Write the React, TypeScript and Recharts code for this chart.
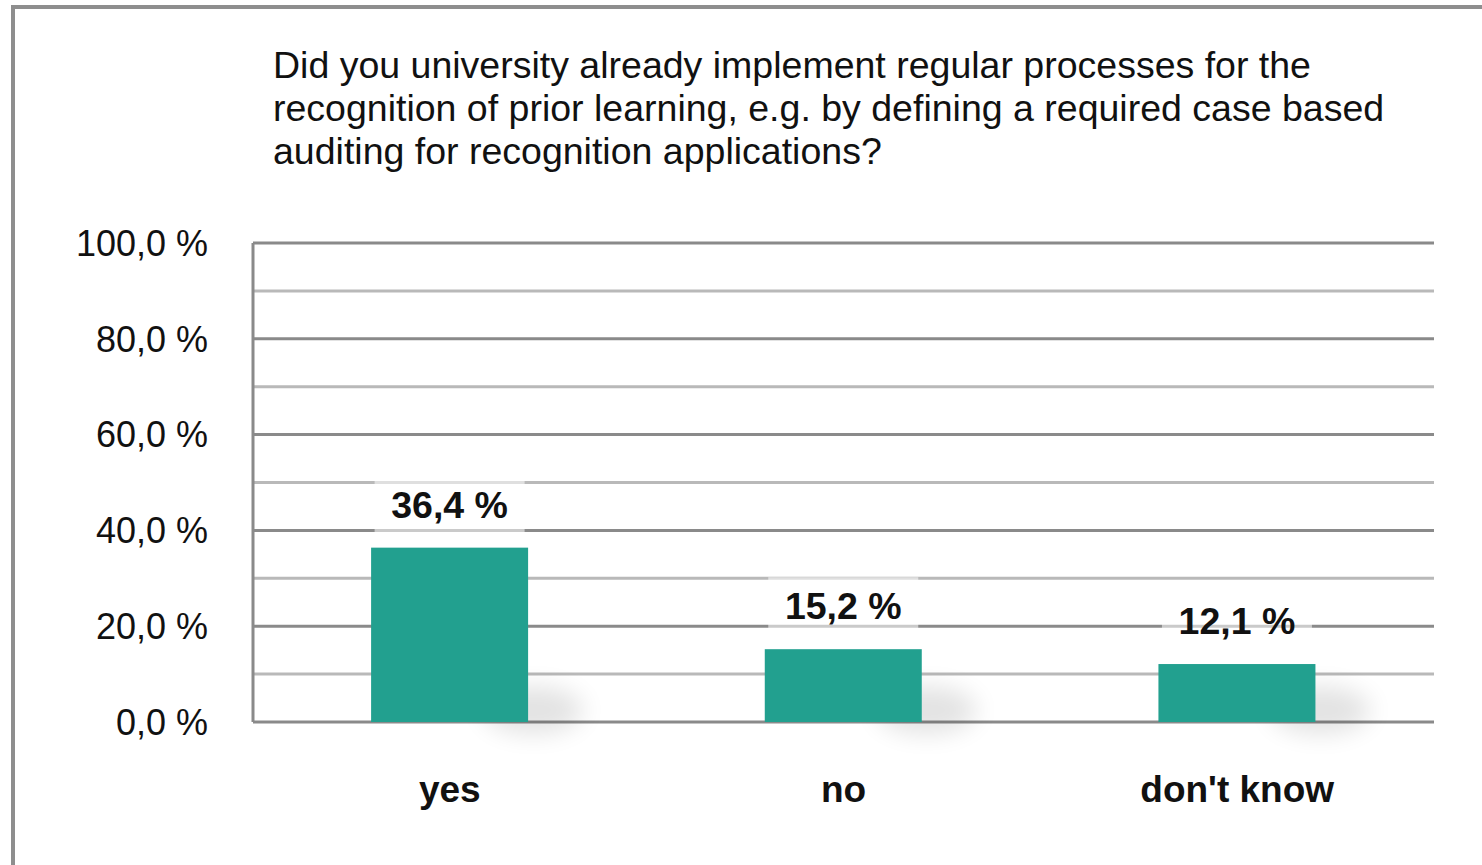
import React from 'react';
import { BarChart, Bar, XAxis, YAxis, CartesianGrid, LabelList } from 'recharts';

const answers = ['yes', 'no', "don't know"];
const shares = [36.4, 15.2, 12.1];
const majorGrid = [0, 20, 40, 60, 80, 100];
const minorGrid = [10, 30, 50, 70, 90];
const yTicks = [0, 20, 40, 60, 80, 100];
const titleLines = [
  'Did you university already implement regular processes for the',
  'recognition of prior learning, e.g. by defining a required case based',
  'auditing for recognition applications?',
];

const data = answers.map((answer, i) => ({ answer, share: shares[i] }));

const FONT = '"Liberation Sans", Arial, sans-serif';
const BAR_COLOR = '#22a08f';
const MAJOR = '#8a8a8a';
const MINOR = '#b9b9b9';

const fmt = (v: number) => `${v.toFixed(1).replace('.', ',')} %`;

// bar with the soft drop shadow at its lower right corner
const ShadowBar: React.FC<any> = ({ x, y, width, height }) => {
  if (!height) return null;
  const bottom = y + height;
  return (
    <g>
      <ellipse
        cx={x + width + 5}
        cy={bottom - 12}
        rx={50}
        ry={Math.min(24, height / 2)}
        fill="#000"
        opacity={0.11}
        filter="url(#barShadow)"
      />
      <rect x={x} y={y} width={width} height={height} fill={BAR_COLOR} />
    </g>
  );
};

const ValueLabel: React.FC<any> = ({ x, y, width, value }) => {
  const cx = x + width / 2;
  const cy = y - 43;
  return (
    <g>
      <rect x={cx - 75} y={cy - 29} width={150} height={58} fill="#fff" opacity={0.55} />
      <text
        x={cx}
        y={cy}
        textAnchor="middle"
        dominantBaseline="central"
        fontFamily={FONT}
        fontWeight="bold"
        fontSize={37.5}
        fill="#111"
      >
        {fmt(value)}
      </text>
    </g>
  );
};

const App: React.FC = () => {
  return (
    <div style={{ position: 'absolute', left: 0, top: 0, width: 1482, height: 865, overflow: 'hidden', background: '#fff' }}>
      <div
        style={{
          position: 'absolute',
          left: 11,
          top: 5,
          width: 1500,
          height: 900,
          borderLeft: '4px solid #8e8e8e',
          borderTop: '4px solid #8e8e8e',
        }}
      />
      <div
        style={{
          position: 'absolute',
          left: 273,
          top: 44,
          fontFamily: FONT,
          fontSize: 37.5,
          lineHeight: '43px',
          color: '#111',
          whiteSpace: 'nowrap',
        }}
      >
        {titleLines.map((line) => (
          <div key={line}>{line}</div>
        ))}
      </div>
      <div style={{ position: 'absolute', left: 0, top: 0 }}>
        <BarChart
          width={1482}
          height={865}
          data={data}
          margin={{ top: 243, right: 48, bottom: 113, left: 0 }}
          barCategoryGap="30%"
        >
          <defs>
            <filter id="barShadow" x="-50%" y="-50%" width="200%" height="200%">
              <feGaussianBlur stdDeviation="12" />
            </filter>
          </defs>
          <CartesianGrid vertical={false} horizontalValues={minorGrid} stroke={MINOR} strokeWidth={3} />
          <CartesianGrid vertical={false} horizontalValues={majorGrid} stroke={MAJOR} strokeWidth={3} />
          <XAxis
            dataKey="answer"
            axisLine={false}
            tickLine={false}
            tickSize={0}
            tickMargin={54}
            height={30}
            tick={{ fontFamily: FONT, fontWeight: 'bold', fontSize: 37, fill: '#111' }}
          />
          <YAxis
            width={253}
            domain={[0, 100]}
            ticks={yTicks}
            tickFormatter={fmt}
            axisLine={{ stroke: MAJOR, strokeWidth: 3 }}
            tickLine={false}
            tickSize={0}
            tickMargin={45}
            tick={{ fontFamily: FONT, fontSize: 36, fill: '#111' }}
          />
          <Bar dataKey="share" shape={<ShadowBar />} isAnimationActive={false}>
            <LabelList dataKey="share" content={<ValueLabel />} />
          </Bar>
        </BarChart>
      </div>
    </div>
  );
};

export default App;
